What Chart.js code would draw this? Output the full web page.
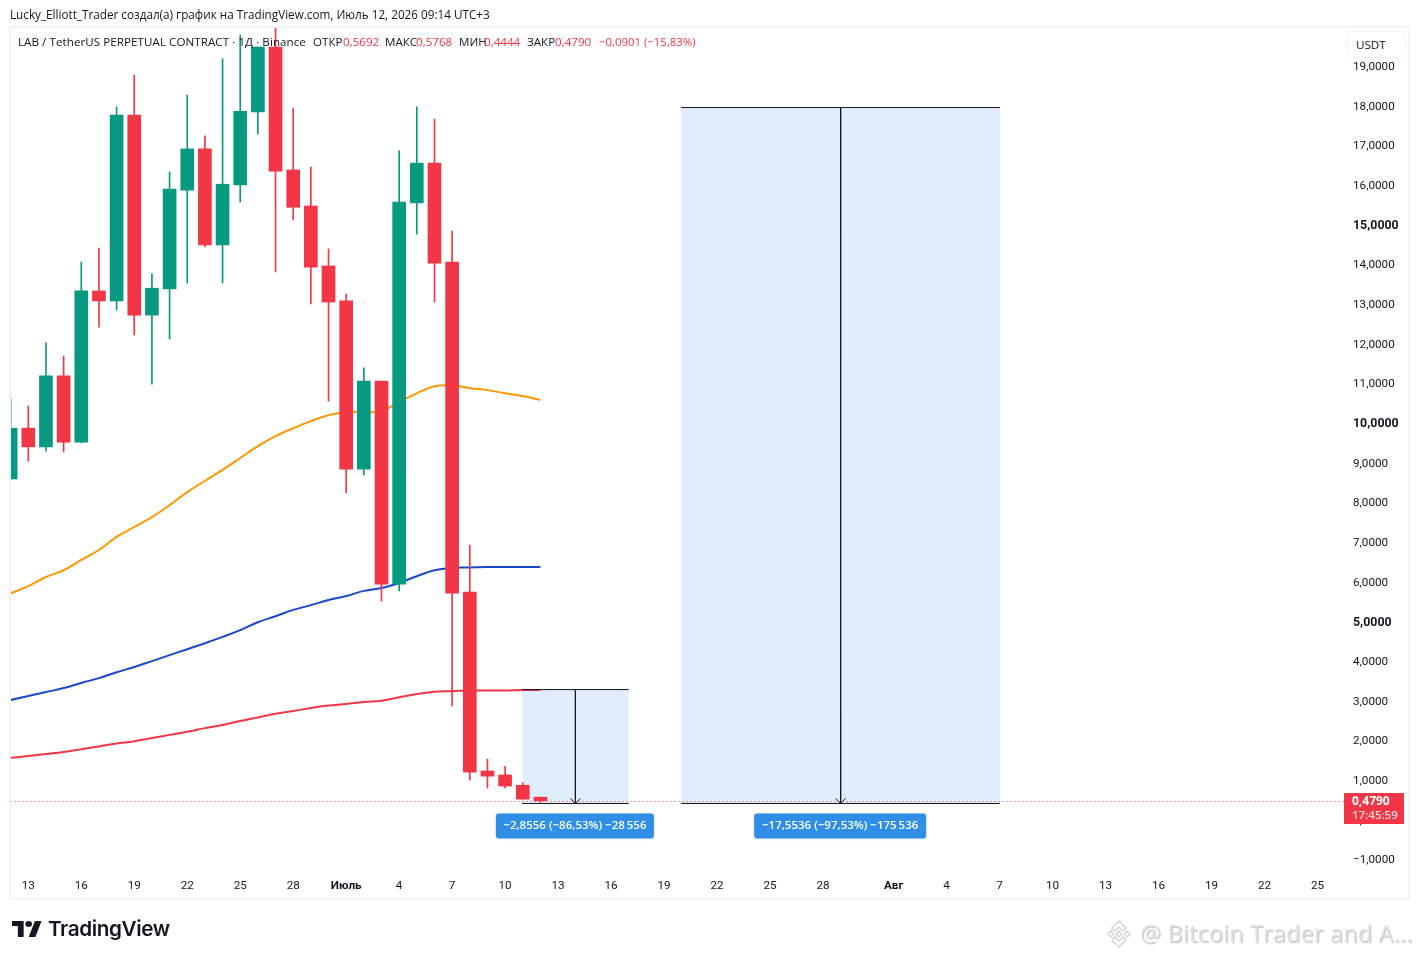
<!DOCTYPE html>
<html>
<head>
<meta charset="utf-8">
<script src="https://cdn.jsdelivr.net/npm/chart.js@4/dist/chart.umd.js"></script>
<style>
  html, body { margin: 0; padding: 0; background: #fff; width: 1419px; height: 959px; overflow: hidden; }
  body { position: relative; font-family: "Open Sans", sans-serif; color: #131722; }
  #frame { position: absolute; left: 9px; top: 26px; width: 1397px; height: 870px; border: 2px solid #f1f3f6; }
  canvas { position: absolute; left: 0; top: 0; }
  .t { position: absolute; white-space: nowrap; font-size: 11.6px; line-height: 16px; }
  .r { color: #f23645; }
  #usdt { position: absolute; left: 1347px; top: 31px; width: 57px; height: 25px; border: 1px solid #f0f3fa; border-radius: 4px; background: #fff; font-size: 11.6px; line-height: 25px; text-indent: 8px; }
  #brand { position: absolute; left: 48px; top: 915px; font: 600 20.7px/28px Inter, sans-serif; letter-spacing: -0.4px; color: #131722; }
  #mark { position: absolute; left: 1140px; top: 916px; font: 23.5px/34px "Open Sans", sans-serif; letter-spacing: 0.15px; color: #e3e3e3; text-shadow: 1px 1px 1px #bdbdbd; white-space: nowrap; }
</style>
</head>
<body>
<div id="frame"></div>
<canvas id="chartLab" width="1419" height="959"></canvas>

<div class="t" style="left:10px;top:6px;font-size:11.72px">Lucky_Elliott_Trader создал(а) график на TradingView.com, Июль 12, 2026 09:14 UTC+3</div>
<div class="t" style="left:18px;top:34px;letter-spacing:0.06px">LAB / TetherUS PERPETUAL CONTRACT · 1Д · Binance</div>
<div class="t" style="left:313px;top:34px">ОТКР</div><div class="t r" style="left:343px;top:34px">0,5692</div>
<div class="t" style="left:385px;top:34px">МАКС</div><div class="t r" style="left:416px;top:34px">0,5768</div>
<div class="t" style="left:459px;top:34px">МИН</div><div class="t r" style="left:484px;top:34px">0,4444</div>
<div class="t" style="left:527px;top:34px">ЗАКР</div><div class="t r" style="left:555px;top:34px">0,4790</div>
<div class="t r" style="left:599px;top:34px;font-size:11.4px">−0,0901 (−15,83%)</div>
<div id="usdt">USDT</div>

<svg style="position:absolute;left:12px;top:921px" width="30" height="16" viewBox="0 0 36 22" preserveAspectRatio="none">
  <path fill="#131722" d="M14 22H7V7H0V0h14v22zM28 22h-8l7.5-22h8L28 22z"/><circle fill="#131722" cx="20" cy="4" r="4"/>
</svg>
<div id="brand">TradingView</div>

<svg style="position:absolute;left:1104px;top:919px" width="30" height="30" viewBox="0 0 30 30" fill="none" stroke="#d6d6d6" stroke-width="1.5">
  <path d="M15 2l7 7-3 3-4-4-4 4-3-3zM15 28l7-7-3-3-4 4-4-4-3 3zM4 15l3-3 3 3-3 3zM20 15l3-3 3 3-3 3zM15 12l3 3-3 3-3-3z"/>
</svg>
<div id="mark">@ Bitcoin Trader and A...</div>

<script>
// days counted from 13 June (0), 1 July is 18, 1 August is 49
const days = [-1, 0, 1, 2, 3, 4, 5, 6, 7, 8, 9, 10, 11, 12, 13, 14, 15, 16, 17, 18, 19, 20, 21, 22, 23, 24, 25, 26, 27, 28, 29];

const opens = [8.59, 9.87, 9.40, 11.19, 9.52, 13.33, 13.08, 17.76, 12.72, 13.38, 15.87, 16.91, 14.49, 16.00, 17.84, 19.48, 16.38, 15.47, 13.96, 13.08, 8.84, 11.06, 5.94, 15.55, 16.55, 14.06, 5.74, 1.23, 1.13, 0.87, 0.5692];
const highs = [10.61, 10.43, 12.02, 11.69, 14.06, 14.41, 17.97, 18.77, 13.76, 16.33, 18.27, 17.24, 19.18, 19.78, 19.48, 19.96, 17.94, 16.45, 14.39, 13.25, 11.39, 11.06, 16.86, 17.97, 17.66, 14.84, 6.92, 1.53, 1.35, 0.93, 0.5768];
const lows = [8.59, 9.04, 9.29, 9.27, 9.50, 12.42, 12.85, 12.22, 10.98, 12.12, 13.53, 14.44, 13.53, 15.57, 17.29, 13.81, 15.12, 13.00, 10.55, 8.24, 8.69, 5.51, 5.77, 14.76, 13.05, 2.87, 1.00, 0.80, 0.80, 0.52, 0.4444];
const closes = [9.87, 9.40, 11.19, 9.52, 13.33, 13.08, 17.76, 12.72, 13.40, 15.90, 16.91, 14.49, 16.02, 17.86, 19.48, 16.35, 15.44, 13.93, 13.05, 8.84, 11.06, 5.94, 15.57, 16.55, 14.03, 5.71, 1.20, 1.10, 0.85, 0.52, 0.479];

const emaOrange = [5.71, 5.89, 6.12, 6.29, 6.55, 6.80, 7.13, 7.38, 7.63, 7.93, 8.26, 8.54, 8.82, 9.12, 9.42, 9.67, 9.87, 10.05, 10.20, 10.28, 10.28, 10.30, 10.53, 10.75, 10.93, 10.95, 10.88, 10.83, 10.75, 10.68, 10.58];
const emaBlue = [3.02, 3.12, 3.22, 3.32, 3.45, 3.57, 3.72, 3.85, 4.00, 4.15, 4.30, 4.45, 4.61, 4.78, 4.98, 5.13, 5.29, 5.41, 5.54, 5.64, 5.77, 5.84, 5.97, 6.14, 6.29, 6.35, 6.36, 6.37, 6.37, 6.37, 6.37];
const emaRed = [1.56, 1.61, 1.66, 1.71, 1.78, 1.85, 1.92, 1.98, 2.06, 2.14, 2.22, 2.31, 2.39, 2.49, 2.58, 2.67, 2.74, 2.82, 2.88, 2.92, 2.97, 3.00, 3.09, 3.17, 3.23, 3.24, 3.26, 3.26, 3.26, 3.27, 3.27];

const xTickDays = [0, 3, 6, 9, 12, 15, 18, 21, 24, 27, 30, 33, 36, 39, 42, 45, 49, 52, 55, 58, 61, 64, 67, 70, 73];
const xTickLabels = ['13', '16', '19', '22', '25', '28', 'Июль', '4', '7', '10', '13', '16', '19', '22', '25', '28', 'Авг', '4', '7', '10', '13', '16', '19', '22', '25'];
const yTickValues = [-1, 0, 1, 2, 3, 4, 5, 6, 7, 8, 9, 10, 11, 12, 13, 14, 15, 16, 17, 18, 19];
const yTickLabels = ['−1,0000', '0,0000', '1,0000', '2,0000', '3,0000', '4,0000', '5,0000', '6,0000', '7,0000', '8,0000', '9,0000', '10,0000', '11,0000', '12,0000', '13,0000', '14,0000', '15,0000', '16,0000', '17,0000', '18,0000', '19,0000'];

// the two price range drawings
const boxLeft = [27.96, 36.97];
const boxRight = [34, 55.02];
const boxCenter = [30.98, 46];
const boxTop = [3.282, 17.953];
const boxBottom = [0.41, 0.41];
const boxLabels = ['−2,8556 (−86,53%) −28\u2009556', '−17,5536 (−97,53%) −175\u2009536'];
const boxLabelWidths = [158, 172];

const priceLine = 0.46;
const lastPrice = '0,4790';
const countdown = '17:45:59';

const fontName = '"Open Sans", sans-serif';
const tickFont = 'Roboto, sans-serif';
const up = '#089981';
const down = '#f23645';
const ink = '#131722';

function candleColor(ctx) {
  return closes[ctx.dataIndex] < opens[ctx.dataIndex] ? down : up;
}

function emaLine(values, color) {
  return {
    type: 'line', order: 4, data: days.map((d, i) => ({ x: d, y: values[i] })),
    borderColor: color, borderWidth: 2, pointRadius: 0, tension: 0.4
  };
}

function drawingLine(points) {
  return { type: 'line', order: 0, data: points, borderColor: ink, borderWidth: 1, pointRadius: 0 };
}

const datasets = [
  emaLine(emaOrange, '#ff9800'),
  emaLine(emaBlue, '#1848cc'),
  emaLine(emaRed, down),
  {
    type: 'bar', order: 2, grouped: false, barThickness: 1, borderSkipped: false,
    data: days.map((d, i) => ({ x: d, y: [lows[i], highs[i]] })),
    backgroundColor: candleColor
  },
  {
    type: 'bar', order: 1, grouped: false, barThickness: 13, borderSkipped: false,
    data: days.map((d, i) => ({ x: d, y: [opens[i], closes[i]] })),
    backgroundColor: candleColor
  },
  {
    type: 'line', order: 0, data: [{ x: -1, y: priceLine }, { x: 75, y: priceLine }],
    borderColor: down, borderWidth: 1, borderDash: [1, 3], pointRadius: 0
  }
];

boxLeft.forEach((left, i) => {
  const right = boxRight[i], mid = boxCenter[i], top = boxTop[i], bottom = boxBottom[i];
  // shaded area with its top edge
  datasets.push({
    type: 'line', order: 6, data: [{ x: left, y: top }, { x: right, y: top }],
    borderColor: 'rgba(0,0,0,0)', borderWidth: 0, pointRadius: 0,
    backgroundColor: '#e0edfb', fill: { value: bottom }
  });
  datasets.push(drawingLine([{ x: left, y: top }, { x: right, y: top }]));
  datasets.push(drawingLine([{ x: left, y: bottom }, { x: right, y: bottom }]));
  datasets.push(drawingLine([{ x: mid, y: top }, { x: mid, y: bottom }]));
  datasets.push(drawingLine([{ x: mid - 0.28, y: bottom + 0.13 }, { x: mid, y: bottom }, { x: mid + 0.28, y: bottom + 0.13 }]));
});

// blue labels under the drawings and the last price tag on the axis
const overlays = {
  id: 'overlays',
  afterDraw(chart) {
    const c = chart.ctx, xs = chart.scales.x, ys = chart.scales.y;
    c.save();
    c.font = '600 11.5px ' + fontName;
    c.textBaseline = 'middle';
    c.textAlign = 'center';
    boxLabels.forEach((text, i) => {
      const w = boxLabelWidths[i];
      const cx = xs.getPixelForValue(boxCenter[i]) - 0.5;
      const top = ys.getPixelForValue(boxBottom[i]) + 10;
      c.shadowColor = 'rgba(0,0,0,0.15)';
      c.shadowBlur = 3;
      c.fillStyle = '#2f8fe6';
      c.beginPath();
      c.roundRect(cx - w / 2, top, w, 25, 3);
      c.fill();
      c.shadowBlur = 0;
      c.fillStyle = '#fff';
      c.fillText(text, cx, top + 12.5);
    });
    const py = ys.getPixelForValue(priceLine);
    c.fillStyle = down;
    c.fillRect(1344, py - 8.5, 60, 31);
    c.textAlign = 'left';
    c.fillStyle = '#fff';
    c.font = '700 12px ' + fontName;
    c.fillText(lastPrice, 1352, py);
    c.fillStyle = '#ffd5d9';
    c.font = '600 11.5px ' + fontName;
    c.fillText(countdown, 1352, py + 14.5);
    c.restore();
  }
};

new Chart(document.getElementById('chartLab'), {
  type: 'bar',
  data: { datasets },
  plugins: [overlays],
  options: {
    responsive: false,
    animation: false,
    devicePixelRatio: 1,
    events: [],
    layout: { padding: { left: 11, top: 28, right: 15, bottom: 60 } },
    plugins: { legend: { display: false }, tooltip: { enabled: false } },
    scales: {
      x: {
        type: 'linear', min: -0.98, max: 74.56, offset: false,
        grid: { display: false }, border: { display: false },
        afterBuildTicks: axis => { axis.ticks = xTickDays.map(v => ({ value: v })); },
        afterFit: axis => { axis.height = 28; },
        ticks: {
          autoSkip: false, maxRotation: 0, padding: 0, color: ink,
          font: ctx => ({ family: tickFont, size: 11.7, weight: isNaN(xTickLabels[ctx.index]) ? '700' : '400' }),
          callback: (v, i) => xTickLabels[i]
        }
      },
      y: {
        type: 'linear', position: 'right', min: -1.291, max: 19.958,
        grid: { display: false }, border: { display: false },
        afterBuildTicks: axis => { axis.ticks = yTickValues.map(v => ({ value: v })); },
        afterFit: axis => { axis.width = 59; },
        ticks: {
          autoSkip: false, padding: 0, labelOffset: 1, color: ink, crossAlign: 'near',
          font: ctx => {
            const bold = ctx.tick && ctx.tick.value % 5 === 0 && ctx.tick.value > 0;
            return { family: tickFont, size: bold ? 12.4 : 11.7, weight: bold ? '700' : '400' };
          },
          callback: (v, i) => yTickLabels[i]
        }
      }
    }
  }
});
</script>
</body>
</html>
